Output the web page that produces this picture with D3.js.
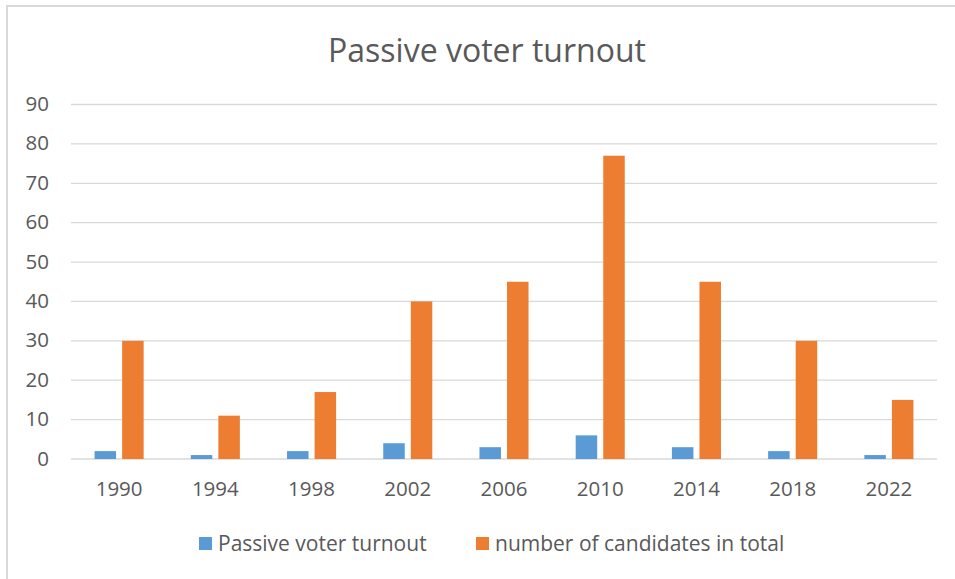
<!DOCTYPE html>
<html lang="en">
<head>
  <meta charset="UTF-8">
  <title>Passive voter turnout</title>
  <script src="https://d3js.org/d3.v7.min.js"></script>
  <style>
    body { margin: 0; background: #fff; }
    text { font-family: "Open Sans", "Noto Sans", sans-serif; fill: #595959; }
  </style>
</head>
<body>
  <div id="chart"></div>

  <script>
    // Data
    const years = ["1990", "1994", "1998", "2002", "2006", "2010", "2014", "2018", "2022"];
    const passiveTurnout = [2, 1, 2, 4, 3, 6, 3, 2, 1];
    const candidatesTotal = [30, 11, 17, 40, 45, 77, 45, 30, 15];
    const seriesNames = ["Passive voter turnout", "number of candidates in total"];
    const yTicks = [0, 10, 20, 30, 40, 50, 60, 70, 80, 90];

    const W = 955, H = 579;
    const plot = { left: 71, right: 937, top: 104.5, bottom: 459 };

    const svg = d3.select("#chart").append("svg")
      .attr("width", W)
      .attr("height", H);

    // chart frame
    svg.append("rect")
      .attr("x", 7).attr("y", 6)
      .attr("width", W + 10).attr("height", H + 10)
      .attr("fill", "#fff")
      .attr("stroke", "#d9d9d9")
      .attr("stroke-width", 2);

    const x0 = d3.scaleBand()
      .domain(years)
      .range([plot.left, plot.right])
      .padding(0);

    const x1 = d3.scaleBand()
      .domain(seriesNames)
      .range([x0.bandwidth() * 0.245, x0.bandwidth() * 0.755])
      .paddingInner(0.22);

    const y = d3.scaleLinear()
      .domain([0, 90])
      .range([plot.bottom, plot.top]);

    const color = d3.scaleOrdinal()
      .domain(seriesNames)
      .range(["#5b9bd5", "#ed7d31"]);

    // gridlines
    svg.append("g")
      .selectAll("line")
      .data(yTicks)
      .join("line")
        .attr("x1", plot.left).attr("x2", plot.right)
        .attr("y1", d => y(d)).attr("y2", d => y(d))
        .attr("stroke", "#d9d9d9")
        .attr("stroke-width", 1.3);

    // y axis labels
    const yAxis = svg.append("g")
      .attr("transform", "translate(49,-0.5)")
      .call(d3.axisLeft(y).tickValues(yTicks).tickSize(0).tickPadding(0));
    yAxis.select(".domain").remove();
    yAxis.selectAll("text")
      .attr("font-size", 20.5)
      .style("font-family", null);

    // bars
    const rows = years.map((yr, i) => ({
      year: yr,
      values: [
        { key: seriesNames[0], value: passiveTurnout[i] },
        { key: seriesNames[1], value: candidatesTotal[i] }
      ]
    }));

    svg.append("g")
      .selectAll("g")
      .data(rows)
      .join("g")
        .attr("transform", d => "translate(" + x0(d.year) + ",0)")
      .selectAll("rect")
      .data(d => d.values)
      .join("rect")
        .attr("x", d => x1(d.key))
        .attr("y", d => y(d.value))
        .attr("width", x1.bandwidth())
        .attr("height", d => y(0) - y(d.value))
        .attr("fill", d => color(d.key));

    // x axis labels
    const xAxis = svg.append("g")
      .attr("transform", "translate(0,489.6)")
      .call(d3.axisBottom(x0).tickSize(0).tickPadding(0));
    xAxis.select(".domain").remove();
    xAxis.selectAll("text")
      .attr("font-size", 20.5)
      .attr("y", 0)
      .attr("dy", "0.32em")
      .style("font-family", null);

    // title
    svg.append("text")
      .attr("x", 487)
      .attr("y", 62)
      .attr("text-anchor", "middle")
      .attr("font-size", 32)
      .text("Passive voter turnout");

    // legend
    const legendX = [199, 476];
    const legend = svg.append("g")
      .selectAll("g")
      .data(seriesNames)
      .join("g")
        .attr("transform", (d, i) => "translate(" + legendX[i] + ",537)");
    legend.append("rect")
      .attr("width", 13).attr("height", 13)
      .attr("fill", d => color(d));
    legend.append("text")
      .attr("x", 19)
      .attr("y", 13.5)
      .attr("font-size", 21)
      .text(d => d);
  </script>
</body>
</html>
